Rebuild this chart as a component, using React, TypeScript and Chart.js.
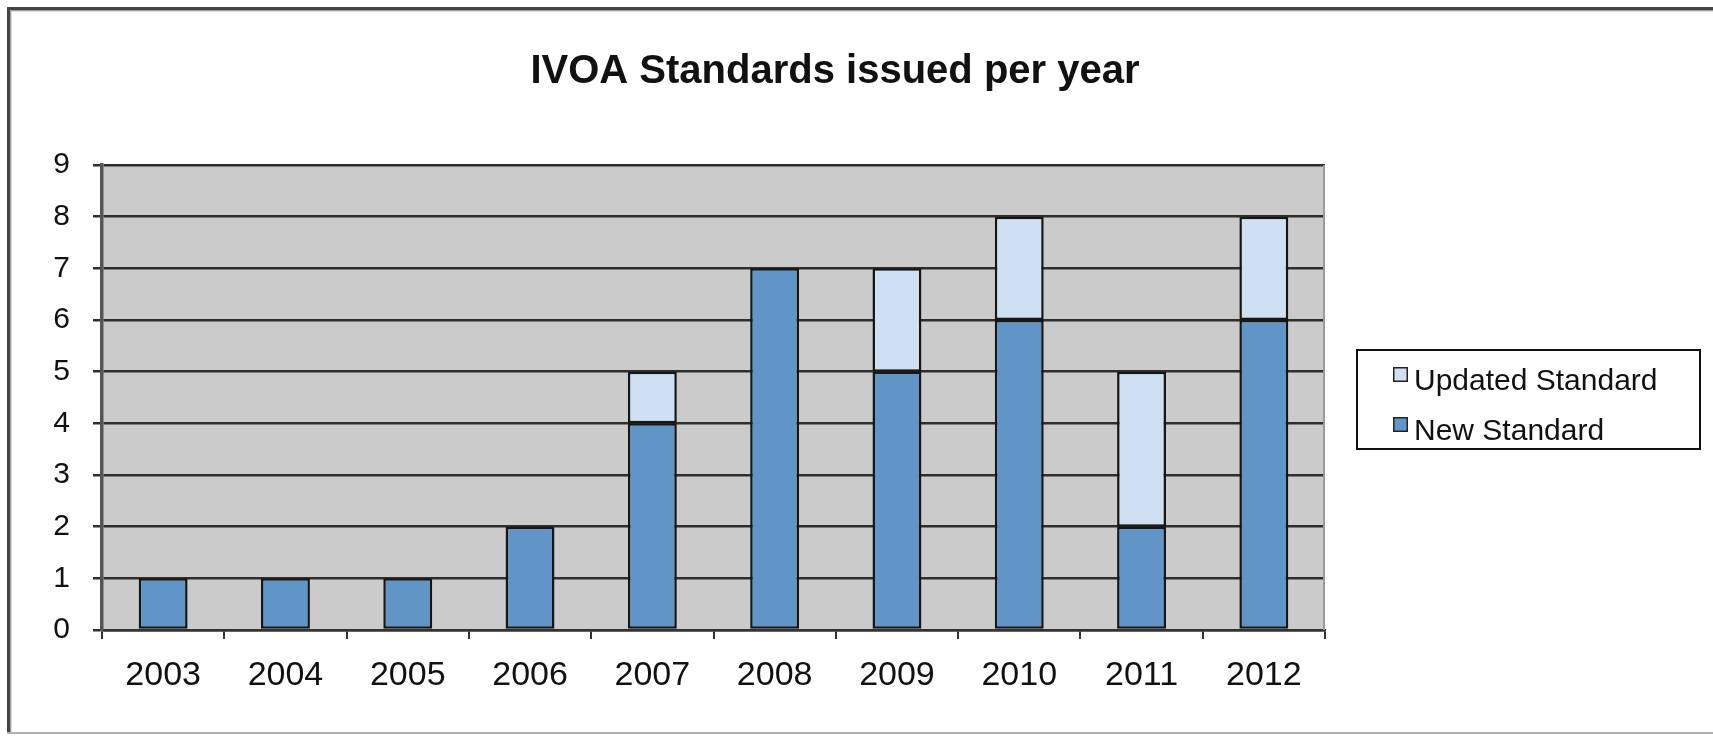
import React, { useEffect, useRef } from "react";
import { Chart, registerables } from "chart.js";

Chart.register(...registerables);

// ---- data ----
const years = ["2003", "2004", "2005", "2006", "2007", "2008", "2009", "2010", "2011", "2012"];
const newStandard = [1, 1, 1, 2, 4, 7, 5, 6, 2, 6];
const updatedStandard = [0, 0, 0, 0, 1, 0, 2, 2, 3, 2];
const seriesNames = ["New Standard", "Updated Standard"];
const yMin = 0;
const yMax = 9;
const yStep = 1;
const chartTitle = "IVOA Standards issued per year";

const FONT = '"Liberation Sans", Arial, sans-serif';
const NEW_COLOR = "#6195c8";
const UPD_COLOR = "#cfe0f2";
const PLOT_BG = "#cbcbcb";

const framePlugin = {
  id: "frameAndBg",
  beforeDraw(chart: any) {
    const { ctx, chartArea, width, height } = chart;
    ctx.save();
    ctx.fillStyle = "#ffffff";
    ctx.fillRect(0, 0, width, height);
    // outer frame: dark top/left, light bottom
    ctx.fillStyle = "#454545";
    ctx.fillRect(7, 7, width - 7, 3);
    ctx.fillRect(7, 7, 3, 727);
    ctx.fillStyle = "#a0a0a0";
    ctx.fillRect(10, 10, width - 10, 1);
    ctx.fillRect(10, 10, 1, 724);
    ctx.fillStyle = "#dcdcdc";
    ctx.fillRect(11, 11, width - 11, 1);
    ctx.fillRect(11, 11, 1, 722);
    ctx.fillStyle = "#b0b0b0";
    ctx.fillRect(7, 732, width - 7, 2);
    // plot background
    ctx.fillStyle = PLOT_BG;
    ctx.fillRect(chartArea.left, chartArea.top, chartArea.right - chartArea.left, chartArea.bottom - chartArea.top);
    ctx.restore();
  },
  afterDatasetsDraw(chart: any) {
    const { ctx, chartArea } = chart;
    ctx.save();
    ctx.strokeStyle = "#9a9a9a";
    ctx.lineWidth = 2;
    ctx.beginPath();
    ctx.moveTo(chartArea.right - 1, chartArea.top);
    ctx.lineTo(chartArea.right - 1, chartArea.bottom);
    ctx.stroke();
    ctx.restore();
  },
  afterDraw(chart: any) {
    const { ctx } = chart;
    ctx.save();
    // title
    ctx.fillStyle = "#111";
    ctx.font = `bold 40px ${FONT}`;
    ctx.textAlign = "center";
    ctx.textBaseline = "alphabetic";
    ctx.fillText(chartTitle, 835, 83);

    // legend (reverse order like Excel)
    ctx.strokeStyle = "#111";
    ctx.lineWidth = 2;
    ctx.strokeRect(1357, 350, 343, 99);
    const ds = chart.data.datasets.slice().reverse();
    ctx.font = `30px ${FONT}`;
    ctx.textAlign = "left";
    ds.forEach((d: any, i: number) => {
      const top = 367 + i * 50;
      ctx.fillStyle = d.backgroundColor;
      ctx.fillRect(1393, top, 15, 15);
      ctx.strokeStyle = "#222";
      ctx.lineWidth = 1.5;
      ctx.strokeRect(1393.75, top + 0.75, 13.5, 13.5);
      ctx.fillStyle = "#111";
      ctx.fillText(d.label, 1414, top + 23);
    });
    ctx.restore();
  },
};

export default function App() {
  const ref = useRef<HTMLCanvasElement>(null);

  useEffect(() => {
    const chart = new Chart(ref.current as HTMLCanvasElement, {
      type: "bar",
      data: {
        labels: years,
        datasets: [
          {
            label: seriesNames[0],
            data: newStandard,
            backgroundColor: NEW_COLOR,
            borderColor: "#161616",
            borderWidth: 2.5,
            borderSkipped: false,
            barPercentage: 0.4,
            categoryPercentage: 1.0,
          },
          {
            label: seriesNames[1],
            data: updatedStandard,
            backgroundColor: UPD_COLOR,
            borderColor: "#161616",
            borderWidth: 2.5,
            borderSkipped: false,
            barPercentage: 0.4,
            categoryPercentage: 1.0,
          },
        ],
      },
      options: {
        responsive: false,
        devicePixelRatio: 1,
        animation: false,
        layout: { padding: { top: 165, right: 388, bottom: 0, left: 0 } },
        plugins: {
          legend: { display: false },
          title: { display: false },
          tooltip: { enabled: false },
        },
        scales: {
          x: {
            stacked: true,
            grid: {
              offset: true,
              drawOnChartArea: false,
              drawTicks: true,
              tickLength: 9,
              color: "#333",
              lineWidth: 2,
            },
            border: { display: true, color: "#333", width: 2.5 },
            ticks: {
              font: { size: 34, family: FONT },
              color: "#111",
              padding: 16,
              maxRotation: 0,
              autoSkip: false,
            },
            afterFit: (s: any) => {
              s.height = 106;
            },
          },
          y: {
            stacked: true,
            min: yMin,
            max: yMax,
            ticks: {
              stepSize: yStep,
              font: { size: 30, family: FONT },
              color: "#111",
              padding: 23,
            },
            grid: { color: "#2e2e2e", lineWidth: 2.5, tickLength: 9 },
            border: { display: true, color: "#555", width: 3.5 },
            afterFit: (s: any) => {
              s.width = 102;
            },
          },
        },
      },
      plugins: [framePlugin],
    });
    return () => chart.destroy();
  }, []);

  return (
    <div style={{ position: "fixed", left: 0, top: 0, width: 1713, height: 736, background: "#fff" }}>
      <canvas ref={ref} width={1713} height={736} style={{ display: "block", width: 1713, height: 736 }} />
    </div>
  );
}
